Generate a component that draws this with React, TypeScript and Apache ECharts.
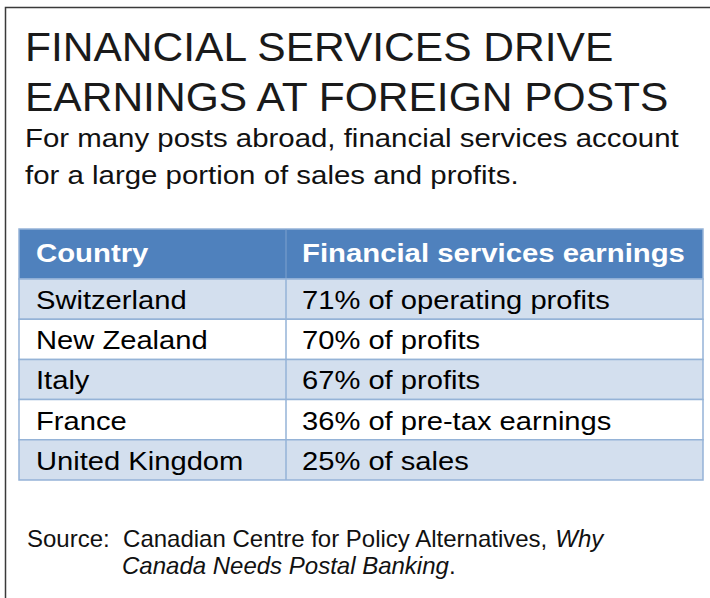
import React, { useEffect, useRef } from "react";
import * as echarts from "echarts";

const titleLines = ["FINANCIAL SERVICES DRIVE", "EARNINGS AT FOREIGN POSTS"];
const subtitleLines = [
  "For many posts abroad, financial services account",
  "for a large portion of sales and profits.",
];
const headers = ["Country", "Financial services earnings"];
const countries = ["Switzerland", "New Zealand", "Italy", "France", "United Kingdom"];
const earnings = [
  "71% of operating profits",
  "70% of profits",
  "67% of profits",
  "36% of pre-tax earnings",
  "25% of sales",
];

export default function App() {
  const ref = useRef<HTMLDivElement>(null);
  useEffect(() => {
    if (!ref.current) return;
    const chart = echarts.init(ref.current, null, { renderer: "svg" });
    const tableLeft = 19;
    const tableRight = 703;
    const colSplit = 286;
    const headerTop = 229;
    const headerBottom = 279;
    const rowH = 40.2;
    const sans = "'Liberation Sans', Arial, sans-serif";
    const asc = 0.875;
    const shapes: any[] = [];
    const texts: any[] = [];

    const txt = (
      s: string,
      x: number,
      baseline: number,
      fs: number,
      weight: string,
      fill: string,
      sx: number
    ) => ({
      type: "text",
      x,
      y: baseline - asc * fs,
      scaleX: sx,
      z: 10,
      style: {
        text: s,
        font: `${weight} ${fs}px ${sans}`,
        fill,
        textBaseline: "top",
        textAlign: "left",
      },
    });

    // frame
    shapes.push({
      type: "rect",
      shape: { x: 5.5, y: 7.5, width: 740, height: 640 },
      style: { fill: "#fff", stroke: "#3a3a3a", lineWidth: 1.5 },
    });

    titleLines.forEach((t, i) => {
      texts.push(txt(t, 25, 62 + i * 50, 40.5, "normal", "#1a1a1a", 1.05));
    });
    subtitleLines.forEach((t, i) => {
      texts.push(txt(t, 25, 148 + i * 37, 26.5, "normal", "#111", 1.11));
    });

    // header
    shapes.push({
      type: "rect",
      shape: { x: tableLeft, y: headerTop, width: tableRight - tableLeft, height: headerBottom - headerTop },
      style: { fill: "#4F81BD", stroke: "#95B3D7", lineWidth: 1.5 },
    });
    shapes.push({
      type: "line",
      shape: { x1: colSplit, y1: headerTop, x2: colSplit, y2: headerBottom },
      style: { stroke: "#7FA1CE", lineWidth: 1 },
    });
    headers.forEach((h, i) => {
      texts.push(txt(h, i === 0 ? 36 : 302, 262, 25.5, "bold", "#fff", 1.15));
    });

    countries.forEach((c, i) => {
      const y = headerBottom + i * rowH;
      shapes.push({
        type: "rect",
        shape: { x: tableLeft, y, width: tableRight - tableLeft, height: rowH },
        style: { fill: i % 2 === 0 ? "#D3DFEE" : "#FFFFFF", stroke: "#95B3D7", lineWidth: 1.5 },
      });
      shapes.push({
        type: "line",
        shape: { x1: colSplit, y1: y, x2: colSplit, y2: y + rowH },
        style: { stroke: "#95B3D7", lineWidth: 1.5 },
      });
      const base = y + rowH / 2 + 10.5;
      texts.push(txt(c, 36, base, 26.5, "normal", "#000", 1.1));
      texts.push(txt(earnings[i], 302, base, 26.5, "normal", "#000", 1.1));
    });

    const rich = {
      n: { font: `normal 24px ${sans}`, fill: "#111" },
      i: { font: `italic 24px ${sans}`, fill: "#111" },
    };
    texts.push({
      type: "text",
      x: 27,
      y: 547 - asc * 24,
      z: 10,
      style: {
        rich,
        text: "{n|Source:  Canadian Centre for Policy Alternatives, }{i|Why}",
        textBaseline: "top",
      },
    });
    texts.push({
      type: "text",
      x: 122,
      y: 574 - asc * 24,
      z: 10,
      style: {
        rich,
        text: "{i|Canada Needs Postal Banking}{n|.}",
        textBaseline: "top",
      },
    });

    chart.setOption({ animation: false, graphic: { elements: [...shapes, ...texts] } });
    return () => chart.dispose();
  }, []);
  return (
    <div
      ref={ref}
      style={{ position: "fixed", left: 0, top: 0, width: 710, height: 598, background: "#fff" }}
    />
  );
}
